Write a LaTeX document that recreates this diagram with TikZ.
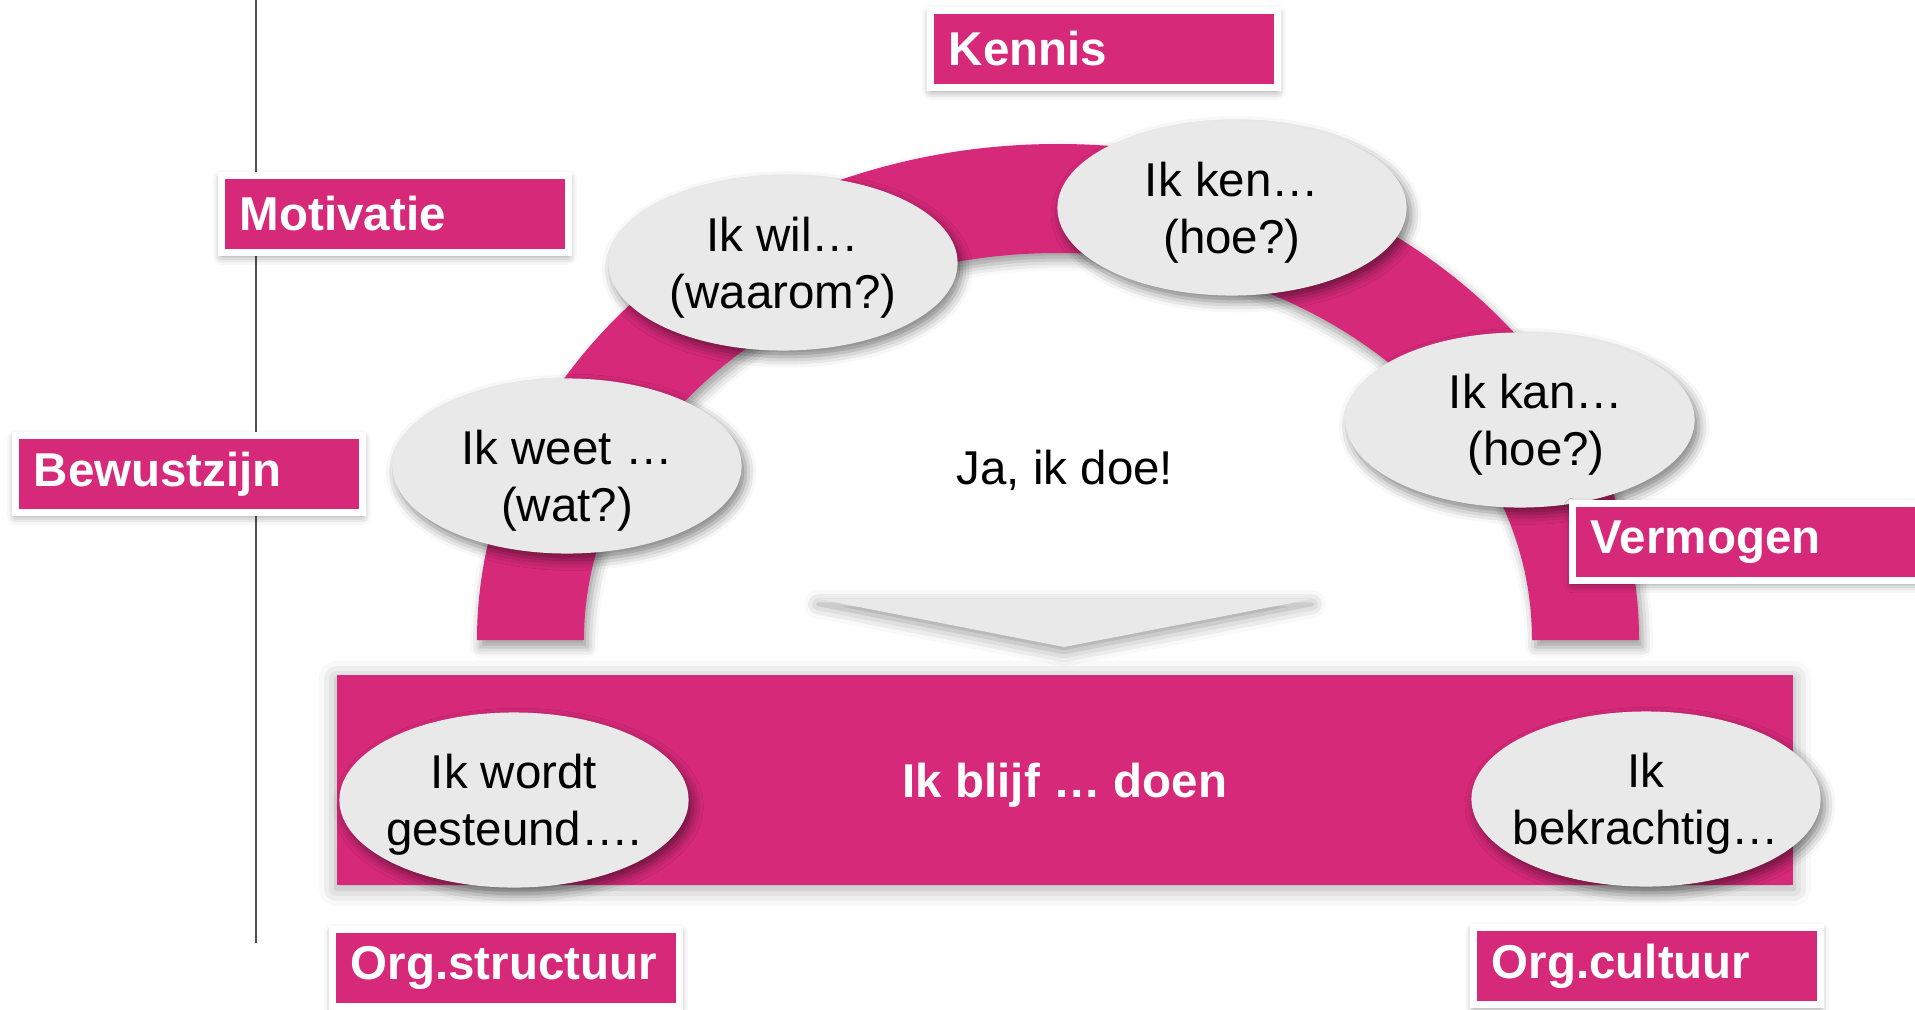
\documentclass[tikz,border=0pt]{standalone}
\usepackage{fontspec}
\setmainfont{Liberation Sans}
\usepackage{xcolor}
\usepackage{tikz}
\usetikzlibrary{shapes.geometric,shadows.blur}

\definecolor{roze}{RGB}{214,41,122}
\definecolor{bubblegrey}{RGB}{233,233,233}
\definecolor{linegrey}{RGB}{80,80,80}

\begin{document}
\begin{tikzpicture}[x=0.01cm, y=0.01cm,
  every node/.style={font=\fontsize{13.5pt}{16.3pt}\selectfont},
  pinkbox/.style={rectangle, fill=roze, draw=white, line width=0.07cm, text width=3.1cm, inner xsep=0.18cm, inner ysep=0pt, minimum height=0.77cm, align=left, text=white, font=\fontsize{13.5pt}{16.3pt}\selectfont\bfseries, blur shadow={shadow xshift=0pt, shadow yshift=-1pt, shadow blur radius=2.5pt, shadow opacity=45}},
  bubble/.style={ellipse, fill=bubblegrey, minimum width=3.49cm, minimum height=1.75cm, inner sep=0pt, blur shadow={shadow xshift=1.2pt, shadow yshift=-1.8pt, shadow blur radius=3pt, shadow opacity=50}},
  bubbletext/.style={align=center, yshift=-0.05cm}]

\useasboundingbox (0,0) rectangle (1915,-1009);

\draw[linegrey, line width=0.6pt] (256,0) -- (256,-943);

% boog
\fill[roze, blur shadow={shadow xshift=1pt, shadow yshift=-2pt, shadow blur radius=3pt, shadow opacity=40}] (477,-640) arc[start angle=180, end angle=0, x radius=581, y radius=496] -- (1532,-640) arc[start angle=0, end angle=180, x radius=474, y radius=387] -- cycle;

\fill[bubblegrey, blur shadow={shadow xshift=0pt, shadow yshift=-1.5pt, shadow blur radius=4pt, shadow opacity=40}] (818,-599) -- (1312,-599) -- (1064,-647) -- cycle;

\node (doe) at (1065,-470) {Ja, ik doe!};

\node (blijf) [rectangle, fill=roze, minimum width=14.56cm, minimum height=2.10cm, text=white, font=\fontsize{13.5pt}{16.3pt}\selectfont\bfseries, blur shadow={shadow xshift=0pt, shadow yshift=-1pt, shadow blur radius=5pt, shadow opacity=35}] at (1065,-780) {};
\node (blijftekst) [text=white, font=\fontsize{13.5pt}{16.3pt}\selectfont\bfseries] at (1065,-785) {Ik blijf … doen};

\node (weet) [bubble, label={[bubbletext, yshift=-0.1cm]center:Ik weet …\\(wat?)}] at (567,-466) {};
\node (wil) [bubble, label={[bubbletext]center:Ik wil…\\(waarom?)}] at (783,-263) {};
\node (ken) [bubble, label={[bubbletext]center:Ik ken…\\(hoe?)}] at (1232,-208) {};
\node (kan) [bubble, label={[bubbletext, xshift=0.16cm]center:Ik kan…\\(hoe?)}] at (1520,-420) {};
\node (gesteund) [bubble, label={[bubbletext]center:Ik wordt\\gesteund….}] at (514,-800) {};
\node (bekrachtig) [bubble, label={[bubbletext]center:Ik\\bekrachtig…}] at (1646,-799) {};

\node (kennis) [pinkbox] at (1104,-49) {Kennis};
\node (motivatie) [pinkbox] at (395,-214) {Motivatie};
\node (bewustzijn) [pinkbox] at (189,-474) {Bewustzijn};
\node (vermogen) [pinkbox] at (1746,-542) {Vermogen};
\node (structuur) [pinkbox] at (506,-968) {Org.structuur};
\node (cultuur) [pinkbox] at (1647,-966) {Org.cultuur};

\end{tikzpicture}
\end{document}
